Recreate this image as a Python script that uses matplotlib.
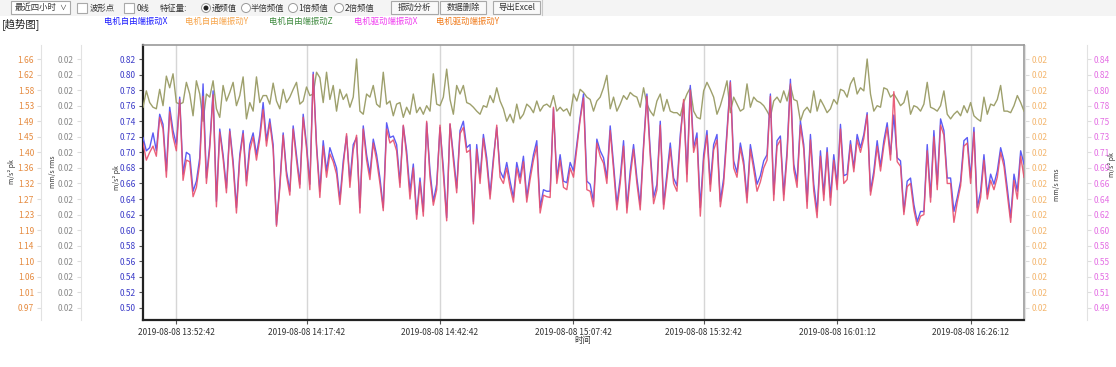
import numpy as np
import matplotlib.pyplot as plt
from matplotlib.patches import Rectangle, Ellipse
from matplotlib.lines import Line2D

plt.rcParams['font.family'] = ['Noto Sans CJK SC', 'DejaVu Sans']

W, H = 1116, 367

# 电机自由端振动X (m/s² pk)
free_x = [
    0.719, 0.702, 0.706, 0.725, 0.702, 0.749, 0.736, 0.676, 0.758, 0.728, 0.710, 0.771, 0.672, 0.700, 0.697, 0.650, 0.663, 0.693,
    0.788, 0.667, 0.710, 0.779, 0.637, 0.730, 0.697, 0.654, 0.730, 0.689, 0.629, 0.697, 0.728, 0.663, 0.710, 0.725, 0.697, 0.723,
    0.764, 0.715, 0.743, 0.710, 0.607, 0.659, 0.725, 0.676, 0.650, 0.734, 0.697, 0.659, 0.749, 0.710, 0.659, 0.803, 0.710, 0.650,
    0.715, 0.676, 0.706, 0.693, 0.680, 0.639, 0.689, 0.721, 0.663, 0.710, 0.719, 0.629, 0.734, 0.697, 0.672, 0.717, 0.697, 0.667,
    0.629, 0.738, 0.719, 0.721, 0.710, 0.661, 0.734, 0.702, 0.650, 0.685, 0.620, 0.667, 0.624, 0.738, 0.676, 0.637, 0.659, 0.732,
    0.680, 0.616, 0.736, 0.697, 0.654, 0.728, 0.740, 0.706, 0.710, 0.611, 0.710, 0.667, 0.723, 0.693, 0.646, 0.693,
    0.732, 0.676, 0.667, 0.687, 0.663, 0.642, 0.687, 0.667, 0.695, 0.642, 0.672, 0.697, 0.715, 0.629, 0.652, 0.650, 0.650, 0.756,
    0.667, 0.697, 0.663, 0.661, 0.687, 0.676, 0.710, 0.745, 0.775, 0.663, 0.659, 0.637, 0.717, 0.702, 0.693, 0.667, 0.734, 0.685,
    0.633, 0.667, 0.715, 0.629, 0.676, 0.710, 0.667, 0.633, 0.710, 0.775, 0.702, 0.642, 0.659, 0.740, 0.633, 0.672, 0.712,
    0.667, 0.657, 0.723, 0.764, 0.672, 0.786, 0.706, 0.725, 0.629, 0.697, 0.728, 0.659, 0.710, 0.723, 0.637, 0.667, 0.728, 0.792,
    0.689, 0.674, 0.712, 0.689, 0.642, 0.710, 0.685, 0.659, 0.670, 0.689, 0.697, 0.775, 0.646, 0.715, 0.721, 0.646, 0.702, 0.794,
    0.685, 0.663, 0.740, 0.710, 0.637, 0.723, 0.659, 0.624, 0.702, 0.646, 0.706, 0.642, 0.697, 0.659, 0.736, 0.670, 0.672,
    0.715, 0.680, 0.723, 0.706, 0.723, 0.751, 0.650, 0.676, 0.715, 0.682, 0.715, 0.738, 0.697, 0.748, 0.693, 0.689, 0.624, 0.663,
    0.667, 0.633, 0.611, 0.624, 0.624, 0.710, 0.642, 0.728, 0.659, 0.743, 0.728, 0.667, 0.667, 0.624, 0.642, 0.663, 0.715, 0.719,
    0.667, 0.732, 0.629, 0.650, 0.697, 0.646, 0.672, 0.659, 0.676, 0.706, 0.689, 0.654, 0.616, 0.672, 0.650, 0.702, 0.685,
]

# 电机驱动端振动X/Y, the red line (same scale as the blue one)
drive_x = [
    0.712, 0.690, 0.700, 0.708, 0.695, 0.745, 0.730, 0.668, 0.752, 0.720, 0.702, 0.768, 0.664, 0.690, 0.688, 0.643, 0.655, 0.686,
    0.772, 0.660, 0.705, 0.774, 0.630, 0.726, 0.692, 0.648, 0.727, 0.683, 0.622, 0.692, 0.724, 0.657, 0.702, 0.720, 0.690, 0.717,
    0.755, 0.708, 0.738, 0.704, 0.605, 0.654, 0.722, 0.670, 0.645, 0.730, 0.690, 0.654, 0.745, 0.705, 0.652, 0.800, 0.706, 0.642,
    0.708, 0.668, 0.698, 0.688, 0.672, 0.633, 0.682, 0.724, 0.655, 0.703, 0.722, 0.622, 0.730, 0.690, 0.665, 0.712, 0.690, 0.660,
    0.625, 0.730, 0.712, 0.716, 0.702, 0.655, 0.735, 0.695, 0.640, 0.680, 0.614, 0.662, 0.618, 0.740, 0.668, 0.632, 0.652, 0.735,
    0.672, 0.612, 0.737, 0.690, 0.648, 0.724, 0.732, 0.700, 0.703, 0.608, 0.704, 0.660, 0.718, 0.686, 0.640, 0.688,
    0.735, 0.668, 0.660, 0.680, 0.655, 0.636, 0.680, 0.660, 0.688, 0.636, 0.665, 0.690, 0.708, 0.622, 0.645, 0.643, 0.642, 0.758,
    0.660, 0.690, 0.655, 0.652, 0.680, 0.668, 0.705, 0.742, 0.770, 0.652, 0.650, 0.630, 0.712, 0.695, 0.686, 0.660, 0.728, 0.678,
    0.626, 0.660, 0.708, 0.622, 0.668, 0.704, 0.660, 0.626, 0.705, 0.772, 0.695, 0.634, 0.652, 0.735, 0.627, 0.665, 0.705,
    0.660, 0.650, 0.716, 0.768, 0.662, 0.780, 0.700, 0.718, 0.618, 0.690, 0.722, 0.650, 0.703, 0.716, 0.630, 0.660, 0.722, 0.790,
    0.680, 0.668, 0.706, 0.683, 0.635, 0.704, 0.678, 0.650, 0.662, 0.680, 0.690, 0.772, 0.638, 0.708, 0.716, 0.638, 0.695, 0.788,
    0.678, 0.655, 0.735, 0.704, 0.628, 0.716, 0.650, 0.616, 0.695, 0.638, 0.700, 0.632, 0.690, 0.652, 0.730, 0.660, 0.665,
    0.710, 0.675, 0.716, 0.700, 0.718, 0.748, 0.645, 0.670, 0.708, 0.676, 0.708, 0.732, 0.690, 0.778, 0.688, 0.682, 0.620, 0.656,
    0.660, 0.626, 0.606, 0.618, 0.620, 0.702, 0.636, 0.720, 0.652, 0.735, 0.722, 0.660, 0.660, 0.610, 0.636, 0.657, 0.708, 0.712,
    0.660, 0.726, 0.622, 0.642, 0.690, 0.640, 0.664, 0.652, 0.668, 0.700, 0.682, 0.646, 0.610, 0.664, 0.640, 0.695, 0.668,
]

# 电机自由端振动Z, the olive line (drawn on the blue scale)
free_z = [
    0.758, 0.779, 0.764, 0.758, 0.756, 0.781, 0.760, 0.798, 0.783, 0.801, 0.764, 0.762, 0.764, 0.790, 0.775, 0.747, 0.792, 0.775,
    0.740, 0.775, 0.771, 0.792, 0.756, 0.745, 0.786, 0.766, 0.777, 0.790, 0.760, 0.773, 0.797, 0.743, 0.764, 0.753, 0.797, 0.764,
    0.773, 0.773, 0.762, 0.789, 0.766, 0.756, 0.781, 0.764, 0.771, 0.781, 0.790, 0.762, 0.766, 0.784, 0.773, 0.775, 0.803, 0.796,
    0.764, 0.803, 0.768, 0.786, 0.753, 0.781, 0.768, 0.775, 0.758, 0.771, 0.820, 0.753, 0.749, 0.775, 0.771, 0.786, 0.762, 0.758,
    0.803, 0.762, 0.766, 0.747, 0.762, 0.764, 0.745, 0.758, 0.749, 0.775, 0.751, 0.758, 0.749, 0.760, 0.753, 0.801, 0.762, 0.760,
    0.771, 0.807, 0.768, 0.749, 0.786, 0.775, 0.786, 0.764, 0.762, 0.758, 0.753, 0.749, 0.760, 0.758, 0.773, 0.764,
    0.783, 0.766, 0.756, 0.740, 0.749, 0.738, 0.762, 0.743, 0.749, 0.762, 0.758, 0.751, 0.766, 0.753, 0.760, 0.762, 0.758, 0.773,
    0.753, 0.758, 0.753, 0.756, 0.747, 0.775, 0.766, 0.781, 0.777, 0.771, 0.768, 0.753, 0.766, 0.771, 0.783, 0.799, 0.756, 0.771,
    0.753, 0.762, 0.773, 0.768, 0.777, 0.773, 0.771, 0.758, 0.783, 0.762, 0.753, 0.747, 0.766, 0.775, 0.753, 0.768, 0.753,
    0.751, 0.751, 0.747, 0.764, 0.775, 0.783, 0.753, 0.745, 0.743, 0.779, 0.790, 0.781, 0.771, 0.749, 0.760, 0.775, 0.792, 0.751,
    0.771, 0.762, 0.753, 0.756, 0.788, 0.758, 0.771, 0.766, 0.764, 0.760, 0.753, 0.745, 0.766, 0.771, 0.764, 0.779, 0.766, 0.786,
    0.768, 0.766, 0.740, 0.753, 0.758, 0.751, 0.779, 0.753, 0.768, 0.760, 0.751, 0.756, 0.768, 0.762, 0.781, 0.779, 0.771,
    0.788, 0.796, 0.775, 0.783, 0.779, 0.820, 0.775, 0.753, 0.760, 0.758, 0.783, 0.781, 0.771, 0.775, 0.768, 0.760, 0.764, 0.779,
    0.749, 0.760, 0.758, 0.753, 0.762, 0.790, 0.758, 0.756, 0.753, 0.760, 0.779, 0.749, 0.743, 0.749, 0.753, 0.747, 0.760, 0.751,
    0.764, 0.747, 0.743, 0.740, 0.771, 0.749, 0.762, 0.760, 0.768, 0.786, 0.753, 0.753, 0.751, 0.760, 0.773, 0.764, 0.753,
]

tick_idx = [10, 49, 89, 129, 168, 208, 248]
tick_lbl = ['2019-08-08 13:52:42', '2019-08-08 14:17:42', '2019-08-08 14:42:42', '2019-08-08 15:07:42',
            '2019-08-08 15:32:42', '2019-08-08 16:01:12', '2019-08-08 16:26:12']

y_ticks = [0.50, 0.52, 0.54, 0.56, 0.58, 0.60, 0.62, 0.64, 0.66, 0.68, 0.70, 0.72, 0.74, 0.76, 0.78, 0.80, 0.82]
left_orange_lbl = ['0.97', '1.01', '1.06', '1.10', '1.14', '1.19', '1.23', '1.27', '1.32', '1.36', '1.40', '1.45',
                   '1.49', '1.53', '1.58', '1.62', '1.66']
rms_lbl = ['0.02'] * 17
pink_lbl = ['0.49', '0.51', '0.53', '0.55', '0.58', '0.60', '0.62', '0.64', '0.66', '0.69', '0.71', '0.73', '0.75',
            '0.78', '0.80', '0.82', '0.84']

legend_names = ['电机自由端振动X', '电机自由端振动Y', '电机自由端振动Z', '电机驱动端振动X', '电机驱动端振动Y']
legend_colors = ['#1a1aff', '#f7a44a', '#3f8a3f', '#f03cf0', '#f07a1a']


def fx(x):
    return x / W


def fy(y):
    return 1 - y / H


def box(x0, y0, x1, y1, fc='white', ec='#a9a9a9'):
    fig.add_artist(Rectangle((fx(x0), fy(y1)), (x1 - x0) / W, (y1 - y0) / H, transform=fig.transFigure,
                             facecolor=fc, edgecolor=ec, lw=0.8))


def label(x, y, s, size=6, color='#333333', ha='left'):
    fig.text(fx(x), fy(y), s, fontsize=size, color=color, ha=ha, va='center')


def radio(x, y, on=False):
    fig.add_artist(Ellipse((fx(x), fy(y)), 9 / W, 9 / H, transform=fig.transFigure,
                           facecolor='white', edgecolor='#9a9a9a', lw=0.7))
    if on:
        fig.add_artist(Ellipse((fx(x), fy(y)), 5 / W, 5 / H, transform=fig.transFigure,
                               facecolor='#222222', edgecolor='none'))


fig = plt.figure(figsize=(W / 100, H / 100), dpi=100)
fig.patch.set_facecolor('white')

# toolbar
fig.add_artist(Rectangle((0, fy(15.5)), 1, 15.5 / H, transform=fig.transFigure, facecolor='#f4f4f4',
                         edgecolor='none'))
box(11, 1, 70, 14)
label(15, 7.5, '最近四小时')
label(59, 7.5, '∨', size=5)
box(77, 3, 87, 13)
label(90, 8, '波形点')
box(124, 3, 134, 13)
label(137, 8, '0线')
label(160, 8, '特征量:')
radio(206, 8, True)
label(212, 8, '通频值')
radio(246, 8)
label(251, 8, '半倍频值')
radio(293, 8)
label(298, 8, '1倍频值')
radio(339, 8)
label(345, 8, '2倍频值')
box(391, 1, 438, 14, fc='#f9f9f9')
label(414.5, 7.5, '振动分析', ha='center')
box(440, 1, 486, 14, fc='#f9f9f9')
label(463, 7.5, '数据删除', ha='center')
box(493, 1, 540, 14, fc='#f9f9f9')
label(516.5, 7.5, '导出Excel', ha='center')
fig.add_artist(Line2D([fx(542), fx(542)], [fy(0), fy(15)], transform=fig.transFigure, color='#c8c8c8', lw=0.8))

label(2, 24, '[趋势图]', size=7.5, color='#222222')
for x0, name, c in zip([104, 185, 269, 354, 436], legend_names, legend_colors):
    label(x0, 21, name, size=6, color=c)

# main plot
ax = fig.add_axes([fx(143), fy(320), 881 / W, 275 / H])
n = np.arange(len(free_x))
ax.plot(n, free_z, color='#9ea06c', lw=1.0, zorder=3)
ax.plot(n, free_x, color='#5c5cf5', lw=1.0, zorder=4)
ax.plot(n, drive_x, color='#e84f6c', lw=1.0, alpha=0.9, zorder=5)

ax.set_xlim(0, len(free_x) - 1)
ax.set_ylim(0.4845, 0.838)
ax.set_xticks(tick_idx, tick_lbl)
ax.set_yticks(y_ticks, ['%.2f' % v for v in y_ticks])
ax.grid(axis='x', color='#d6d6d6', lw=1.0)
ax.tick_params(axis='x', labelsize=6, colors='#555555', labelcolor='#333333', length=3, pad=3)
ax.tick_params(axis='y', labelsize=6, colors='#555555', labelcolor='#3b3bc8', length=3, pad=2)
for s in ['left', 'bottom']:
    ax.spines[s].set_color('#222222')
    ax.spines[s].set_linewidth(1.6)
for s in ['top', 'right']:
    ax.spines[s].set_color('#9a9a9a')
    ax.spines[s].set_linewidth(1.2)
label(583, 341, '时间', size=6, ha='center')


def side_axis(side, offset_px, labels, color):
    a = ax.twinx()
    a.set_ylim(ax.get_ylim())
    for s in a.spines.values():
        s.set_visible(False)
    sp = a.spines[side]
    sp.set_visible(True)
    sp.set_position(('outward', offset_px * 0.72))
    sp.set_color('#e2e2e2')
    a.yaxis.set_ticks_position(side)
    a.set_yticks(y_ticks, labels)
    a.tick_params(axis='y', labelsize=6, colors='#dddddd', labelcolor=color, length=3, pad=2)
    return a


side_axis('left', 102, left_orange_lbl, '#e58a3e')
side_axis('left', 62, rms_lbl, '#8a8a8a')
side_axis('right', 1, rms_lbl, '#f4b66e')
side_axis('right', 63, pink_lbl, '#e46ee4')

# unit captions
for x0, y0, s in [(12, 172, 'm/s² pk'), (53, 172, 'mm/s rms'), (117, 178, 'm/s² pk'),
                  (1057, 185, 'mm/s rms'), (1112, 165, 'm/s² pk')]:
    fig.text(fx(x0), fy(y0), s, fontsize=5, color='#333333', rotation=90, ha='center', va='center')

fig.savefig('out.png', dpi=100)
